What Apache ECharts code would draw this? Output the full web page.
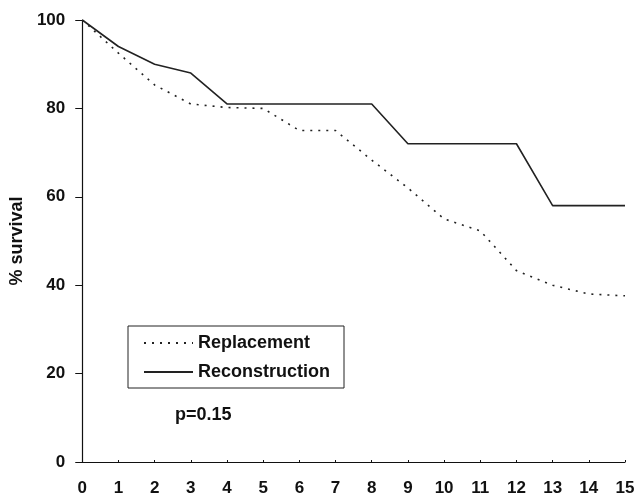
<!DOCTYPE html>
<html>
<head>
<meta charset="utf-8">
<script src="https://cdn.jsdelivr.net/npm/echarts@6/dist/echarts.min.js"></script>
<style>
html,body{margin:0;padding:0;background:#fff;}
#chart{width:638px;height:497px;}
</style>
</head>
<body>
<div id="chart"></div>
<script>
var years = [0,1,2,3,4,5,6,7,8,9,10,11,12,13,14,15];
var replacement = [100,92.5,85.3,81,80.2,80,75,75,68.3,62,55,52.3,43.3,40,38,37.6];
var reconstruction = [100,94,90,88,81,81,81,81,81,72,72,72,72,58,58,58];
var yTicks = [0,20,40,60,80,100];
var pText = 'p=0.15';

function pairs(xs, ys){ return xs.map(function(x,i){ return [x, ys[i]]; }); }

var font = 'Arial, "Liberation Sans", Helvetica, sans-serif';
var chart = echarts.init(document.getElementById('chart'), null, {renderer:'canvas'});
chart.setOption({
  animation:false,
  backgroundColor:'#fff',
  grid:{left:79, right:13, top:20, bottom:35, containLabel:false},
  xAxis:{
    type:'value', min:0, max:15, interval:1,
    axisLine:{lineStyle:{color:'#111', width:1.2}},
    axisTick:{show:true, inside:true, length:2, lineStyle:{color:'#111'}},
    splitLine:{show:false},
    axisLabel:{color:'#111', fontFamily:font, fontWeight:'bold', fontSize:17, margin:18}
  },
  yAxis:{
    type:'value', min:yTicks[0], max:yTicks[yTicks.length-1], interval:20,
    name:'% survival', nameLocation:'middle', nameGap:43, nameRotate:90,
    nameTextStyle:{color:'#111', fontFamily:font, fontWeight:'bold', fontSize:18},
    axisLine:{show:true, lineStyle:{color:'#111', width:1.2}},
    axisTick:{show:true, length:7, lineStyle:{color:'#111'}},
    splitLine:{show:false},
    axisLabel:{color:'#111', fontFamily:font, fontWeight:'bold', fontSize:17, margin:17}
  },
  legend:{
    orient:'vertical', left:128, top:326,
    padding:[8,14,7,15], itemGap:11, itemWidth:49, itemHeight:14,
    borderColor:'#222', borderWidth:1, borderRadius:0,
    data:['Replacement','Reconstruction'],
    itemStyle:{opacity:0},
    textStyle:{color:'#111', fontFamily:font, fontWeight:'bold', fontSize:18},
    selectedMode:false
  },
  graphic:[{
    type:'text', left:175, top:406,
    style:{text:pText, fill:'#111', font:'bold 18px ' + font}
  }],
  series:[
    {
      name:'Replacement', type:'line', data:pairs(years, replacement),
      symbol:'none', lineStyle:{color:'#222', width:1.6, type:[2,6]}, itemStyle:{color:'#222'}
    },
    {
      name:'Reconstruction', type:'line', data:pairs(years, reconstruction),
      symbol:'none', lineStyle:{color:'#222', width:1.6, type:'solid'}, itemStyle:{color:'#222'}
    }
  ]
});
</script>
</body>
</html>
